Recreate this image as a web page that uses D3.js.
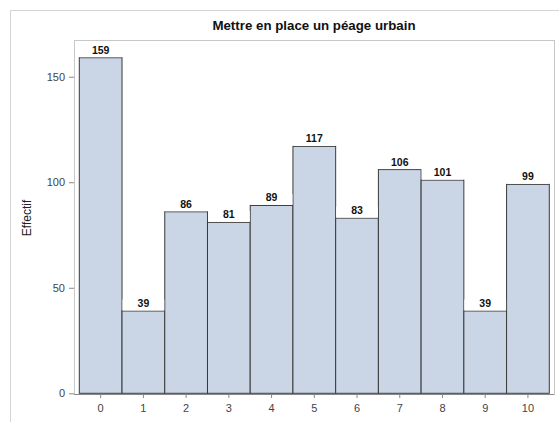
<!DOCTYPE html>
<html>
<head>
<meta charset="utf-8">
<script src="https://cdn.jsdelivr.net/npm/d3@7"></script>
<style>
  html, body { margin: 0; padding: 0; background: #fff; }
  svg { display: block; font-family: Arial, "Liberation Sans", sans-serif; }
</style>
</head>
<body>
<svg id="chart" width="559" height="422"></svg>
<script>
// Distribution des réponses : « Mettre en place un péage urbain »
const categories = ["0", "1", "2", "3", "4", "5", "6", "7", "8", "9", "10"];
const counts = [159, 39, 86, 81, 89, 117, 83, 106, 101, 39, 99];
const yTicks = [0, 50, 100, 150];
const title = "Mettre en place un péage urbain";
const yLabel = "Effectif";

const svg = d3.select("#chart");

// outer graph frame
svg.append("rect")
  .attr("x", 10.5).attr("y", 10.5)
  .attr("width", 600).attr("height", 500)
  .attr("fill", "none").attr("stroke", "#d4d4d4");

const plot = { left: 74, right: 554, top: 40, bottom: 394 };

const x = d3.scaleBand()
  .domain(categories)
  .range([79.3, 549.3])
  .padding(0);

const y = d3.scaleLinear()
  .domain([0, 167.4])
  .range([393.3, 40]);

// plot area frame
svg.append("rect")
  .attr("x", plot.left + 0.5).attr("y", plot.top + 0.5)
  .attr("width", plot.right - plot.left).attr("height", plot.bottom - plot.top)
  .attr("fill", "none").attr("stroke", "#c8c8c8");

// title
svg.append("text")
  .attr("x", 314).attr("y", 30)
  .attr("text-anchor", "middle")
  .attr("font-size", 13.3).attr("font-weight", "bold")
  .attr("fill", "#111")
  .text(title);

// y axis label
svg.append("text")
  .attr("transform", "translate(31,218) rotate(-90)")
  .attr("text-anchor", "middle")
  .attr("font-size", 12)
  .attr("fill", "#222")
  .text(yLabel);

// bars
svg.append("g").selectAll("rect")
  .data(counts)
  .join("rect")
  .attr("x", (d, i) => x(categories[i]))
  .attr("y", d => y(d))
  .attr("width", x.bandwidth())
  .attr("height", d => y(0) - y(d))
  .attr("fill", "#cad5e5")
  .attr("stroke", "#3a3a3a")
  .attr("stroke-width", 1);

// value labels with white backing
const lab = svg.append("g");
lab.selectAll("rect")
  .data(counts)
  .join("rect")
  .attr("x", (d, i) => x(categories[i]) + 0.5)
  .attr("y", d => y(d) - 11.5)
  .attr("width", x.bandwidth() - 1)
  .attr("height", 11)
  .attr("fill", "#fff");
lab.selectAll("text")
  .data(counts)
  .join("text")
  .attr("x", (d, i) => x(categories[i]) + x.bandwidth() / 2)
  .attr("y", d => y(d) - 4)
  .attr("text-anchor", "middle")
  .attr("font-size", 10.5).attr("font-weight", "bold")
  .attr("fill", "#111")
  .text(d => d);

// y axis
const yAxis = svg.append("g")
  .attr("transform", `translate(${plot.left},0)`)
  .call(d3.axisLeft(y).tickValues(yTicks).tickSize(5).tickPadding(4));
yAxis.select(".domain").remove();
yAxis.selectAll(".tick line").attr("stroke", "#888");
yAxis.selectAll(".tick text").attr("font-size", 11).attr("fill", "#444")
  .attr("font-family", "Arial, 'Liberation Sans', sans-serif");

// x axis
const xAxis = svg.append("g")
  .attr("transform", `translate(0,${plot.bottom})`)
  .call(d3.axisBottom(x).tickSize(4).tickPadding(6));
xAxis.select(".domain")
  .attr("d", `M${plot.left},0.5H${plot.right}`)
  .attr("stroke", "#888");
xAxis.selectAll(".tick line").attr("stroke", "#888");
xAxis.selectAll(".tick text").attr("font-size", 11).attr("fill", "#444")
  .attr("font-family", "Arial, 'Liberation Sans', sans-serif");
</script>
</body>
</html>
